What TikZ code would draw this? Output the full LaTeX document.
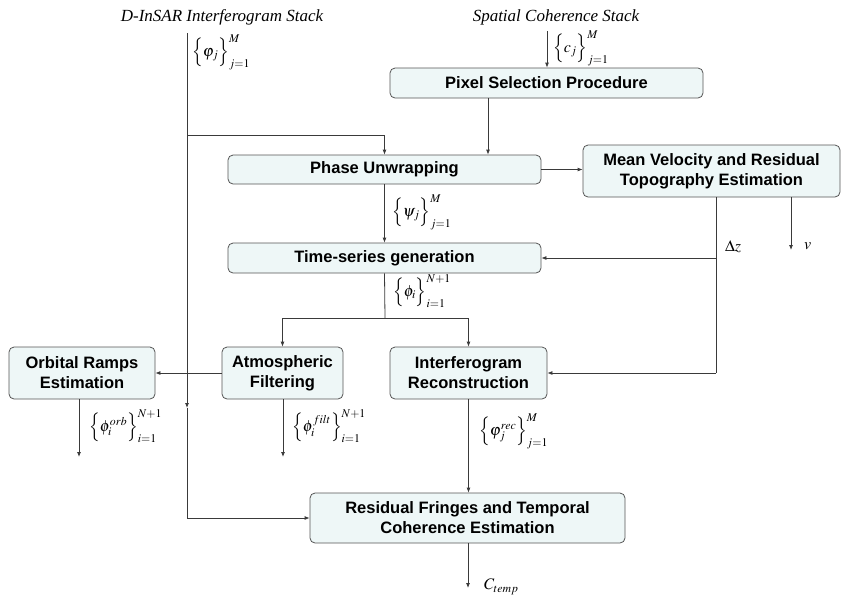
\documentclass[tikz,border=0pt]{standalone}
\usepackage{mathptmx}
\usepackage{fontspec}
\setmainfont{Liberation Sans}
\newfontfamily\titlefont{Liberation Serif}
\usetikzlibrary{arrows.meta}

\definecolor{boxF}{HTML}{EEF7F7}
\definecolor{boxE}{HTML}{555555}
\definecolor{lineC}{HTML}{3A3A3A}

\begin{document}
\begin{tikzpicture}[x=1pt, y=-1pt,
  procbox/.style={draw=boxE, fill=boxF, line width=0.8pt, rounded corners=5pt,
                  align=center, inner sep=1pt,
                  font=\fontsize{16.5}{20}\selectfont\bfseries},
  stacklbl/.style={font=\fontsize{17}{18}\selectfont\titlefont\itshape, inner sep=1pt},
  flow/.style={draw=lineC, line width=0.8pt, -{Latex[length=5pt,width=4pt]}},
  wire/.style={draw=lineC, line width=0.8pt},
  mathlbl/.style={font=\fontsize{16}{18}\selectfont, inner sep=0pt, anchor=west},
]
\useasboundingbox (0,0) rectangle (841,598);

% input stacks
\node[stacklbl] (ifgstack) at (222,17) {D-InSAR Interferogram Stack};
\node[stacklbl] (cohstack) at (556,17) {Spatial Coherence Stack};
\coordinate (ifgin) at (187,33);
\coordinate (cohin) at (547,31);

% processing blocks
\node[procbox, minimum width=313pt, minimum height=30pt] (pixsel) at (546.5,83) {Pixel Selection Procedure};
\node[procbox, minimum width=313pt, minimum height=29pt] (phase) at (384.5,169.5) {Phase Unwrapping};
\node[procbox, minimum width=257pt, minimum height=52pt] (meanvel) at (711.5,171) {Mean Velocity and Residual\\Topography Estimation};
\node[procbox, minimum width=313pt, minimum height=30pt] (timeser) at (384.5,258) {Time-series generation};
\node[procbox, minimum width=146pt, minimum height=52pt] (orbital) at (82,373) {Orbital Ramps\\Estimation};
\node[procbox, minimum width=121pt, minimum height=52pt] (atmos) at (282.5,373) {Atmospheric\\Filtering};
\node[procbox, minimum width=157pt, minimum height=52pt] (interf) at (468.5,373) {Interferogram\\Reconstruction};
\node[procbox, minimum width=315pt, minimum height=50pt] (resid) at (467.5,518) {Residual Fringes and Temporal\\Coherence Estimation};

% junctions and free ends
\coordinate (split1) at (187,135);
\coordinate (ifgmid) at (187,408);
\coordinate (dzturn) at (716,373);
\coordinate (split2) at (385,318);
\coordinate (vout) at (791,250);
\coordinate (orbout) at (79,457);
\coordinate (filtout) at (283,457);
\coordinate (ctout) at (468,588);

% --- interferogram stack line ---
\draw[flow] (ifgin) -- (ifgmid);
\draw[flow] (ifgmid) |- (resid.west);
\draw[flow] (split1) -| (phase.north);
\draw[flow] (cohin) -- (cohin |- pixsel.north);
\draw[flow] (488,0 |- pixsel.south) -- (488,0 |- phase.north);

% --- unwrapping and velocity ---
\draw[flow] (phase.east) -- (phase.east -| meanvel.west);
\draw[flow] (phase.south) -- (timeser.north);
\draw[wire] (716,0 |- meanvel.south) -- (dzturn);
\draw[flow] (dzturn) -- (interf.east);
\draw[flow] (716,0 |- timeser.east) -- (timeser.east);
\draw[flow] (vout |- meanvel.south) -- (vout);

% --- time series split ---
\draw[wire] (timeser.south) -- (split2);
\draw[flow] (split2) -| (atmos.north);
\draw[flow] (split2) -| (interf.north);
\draw[flow] (atmos.west) -- (orbital.east);
\draw[flow] (orbout |- orbital.south) -- (orbout);
\draw[flow] (filtout |- atmos.south) -- (filtout);
\draw[flow] (interf.south) -- (interf.south |- resid.north);
\draw[flow] (ctout |- resid.south) -- (ctout);

% --- data labels ---
\node[mathlbl] (phij) at (192,52) {$\Bigl\{\varphi_j\Bigr\}_{j=1}^{M}$};
\node[mathlbl] (cj) at (553,48) {$\Bigl\{c_j\Bigr\}_{j=1}^{M}$};
\node[mathlbl] (psij) at (392,212) {$\Bigl\{\psi_j\Bigr\}_{j=1}^{M}$};
\node[mathlbl] (phii) at (393,291) {$\Bigl\{\phi_i\Bigr\}_{i=1}^{N+1}$};
\node[mathlbl] (phiorb) at (89,426) {$\Bigl\{\phi_i^{orb}\Bigr\}_{i=1}^{N+1}$};
\node[mathlbl] (phifilt) at (292,426) {$\Bigl\{\phi_i^{filt}\Bigr\}_{i=1}^{N+1}$};
\node[mathlbl] (phirec) at (479,431) {$\Bigl\{\varphi_j^{rec}\Bigr\}_{j=1}^{M}$};
\node[mathlbl] (dz) at (725,247) {$\Delta z$};
\node[mathlbl] (vel) at (804,246) {$v$};
\node[mathlbl] (ctemp) at (484,587) {$C_{temp}$};
\end{tikzpicture}
\end{document}
